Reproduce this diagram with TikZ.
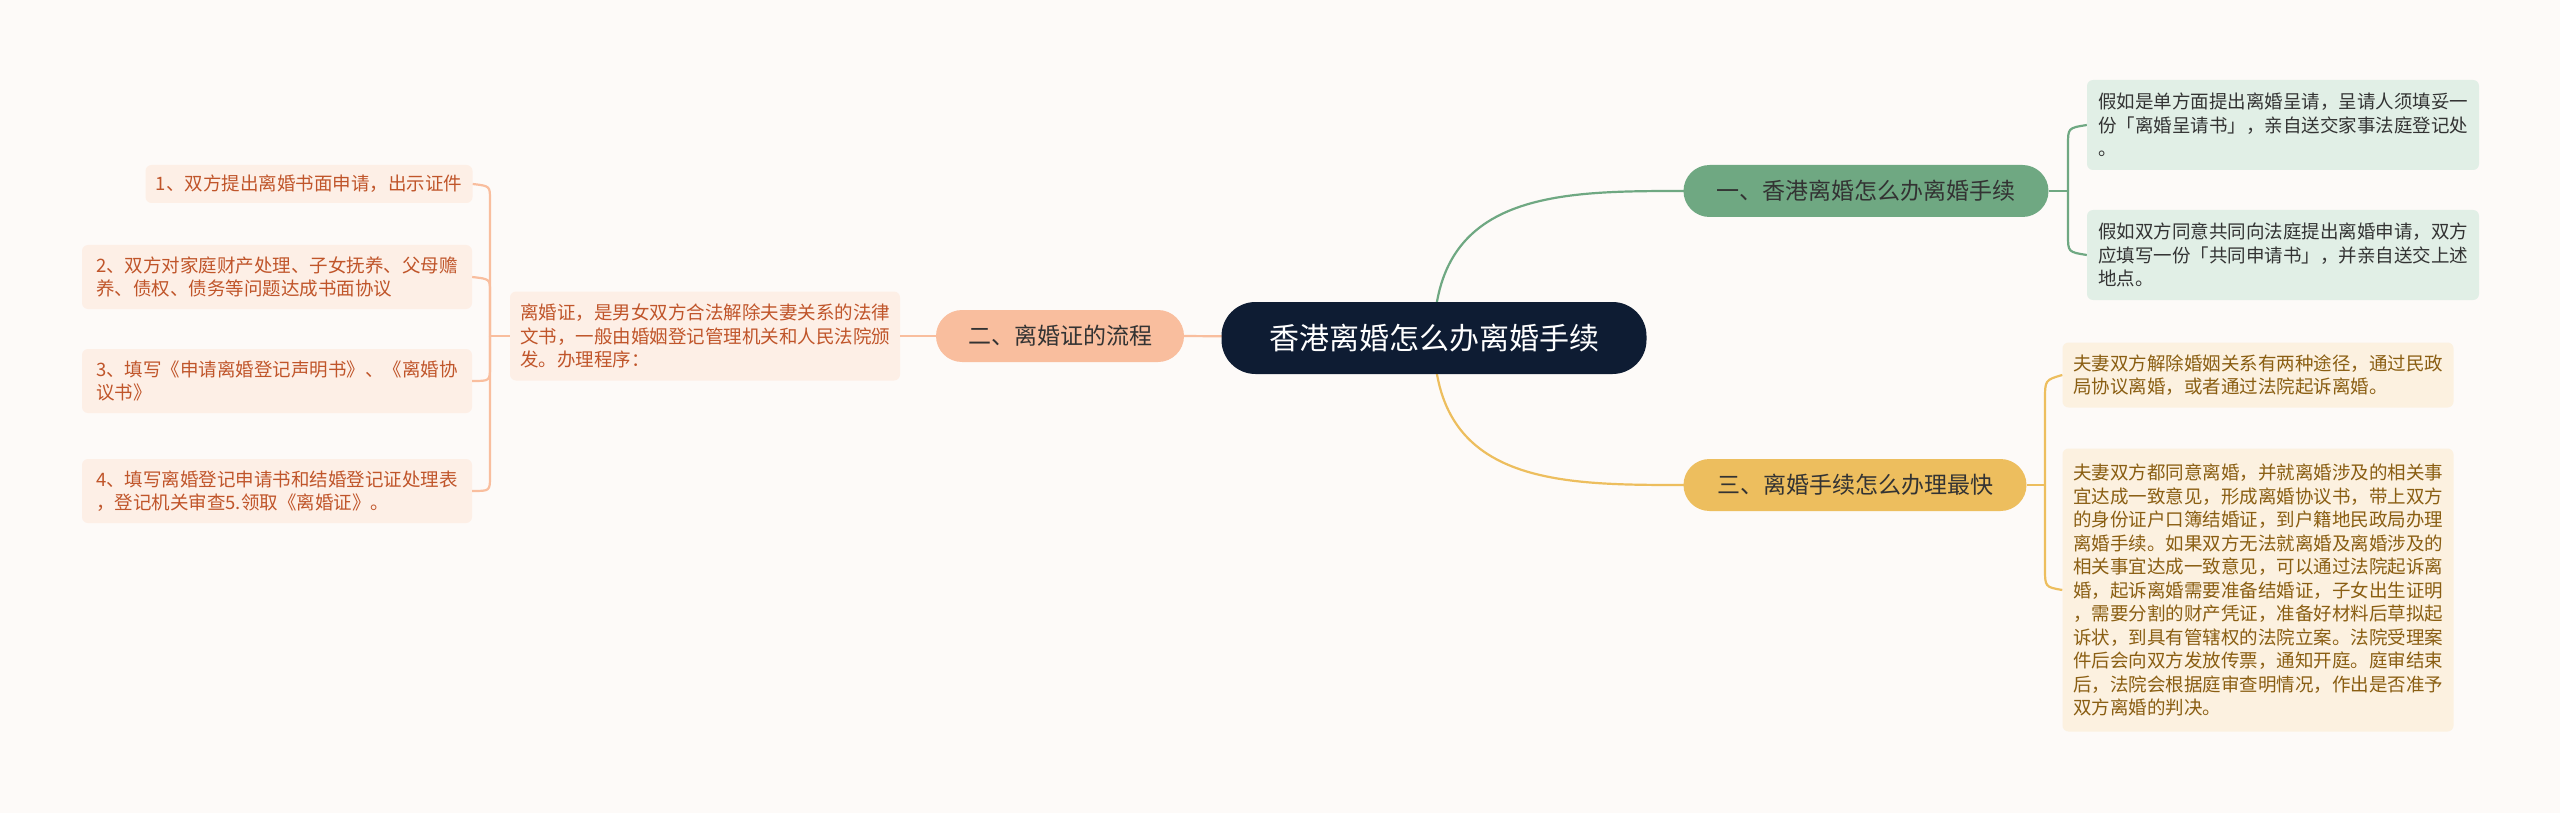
\documentclass[tikz,border=0pt]{standalone}
\usepackage{fontspec}
\setmainfont{Noto Sans CJK SC}
\begin{document}
\begin{tikzpicture}[x=1pt,y=-1pt,
  leaf/.style={rounded corners=6pt,inner xsep=10pt,inner ysep=6pt,align=left,anchor=center,font=\fontsize{18.5}{23.5}\selectfont},
  sleaf/.style={leaf,fill=salleaf,text=saltext},
  gleaf/.style={leaf,fill=grnleaf,text=grntext},
  yleaf/.style={leaf,fill=yelleaf,text=yeltext},
  branch/.style={rounded corners=26pt,minimum height=52pt,inner xsep=18pt,font=\fontsize{23}{28}\selectfont,text=black!80},
  conn/.style={line width=2.2pt}]
\definecolor{bg}{HTML}{FDFAF8}
\definecolor{navy}{HTML}{0E1C33}
\definecolor{grn}{HTML}{6FA882}
\definecolor{grnleaf}{HTML}{E1EFE6}
\definecolor{grntext}{HTML}{333333}
\definecolor{yel}{HTML}{EDBE5E}
\definecolor{yelleaf}{HTML}{FCF1E0}
\definecolor{yeltext}{HTML}{8A5E12}
\definecolor{sal}{HTML}{F9BE9E}
\definecolor{salleaf}{HTML}{FDEFE6}
\definecolor{saltext}{HTML}{C0552A}
\fill[bg] (0,0) rectangle (2560,813);
\useasboundingbox (0,0) rectangle (2560,813);

\coordinate (cc) at (1434,338);
% connectors from centre (behind)
\draw[conn,grn] (cc) .. controls (1434,191) and (1560,191) .. (1684,191);
\draw[conn,yel] (cc) .. controls (1434,485) and (1560,485) .. (1684,485);
\draw[conn,sal] (cc) -- (1184,336);

\node[fill=navy,text=white,rounded corners=34pt,minimum width=425pt,minimum height=72pt,font=\fontsize{30}{36}\selectfont] (c) at (cc) {香港离婚怎么办离婚手续};

\node[branch,fill=grn,minimum width=365pt] (b1) at (1866,191) {一、香港离婚怎么办离婚手续};
\node[branch,fill=yel,minimum width=343pt] (b3) at (1855,485) {三、离婚手续怎么办理最快};
\node[branch,fill=sal,minimum width=248pt] (b2) at (1060,336) {二、离婚证的流程};

\node[gleaf,minimum width=392pt,minimum height=90pt] (g1) at (2283,125) {假如是单方面提出离婚呈请，呈请人须填妥一\\份「离婚呈请书」，亲自送交家事法庭登记处\\。};
\node[gleaf,minimum width=392pt,minimum height=90pt] (g2) at (2283,255) {假如双方同意共同向法庭提出离婚申请，双方\\应填写一份「共同申请书」，并亲自送交上述\\地点。};

\node[yleaf,minimum width=391pt,minimum height=65pt] (y1) at (2258,375) {夫妻双方解除婚姻关系有两种途径，通过民政\\局协议离婚，或者通过法院起诉离婚。};
\node[yleaf,minimum width=391pt,minimum height=283pt] (y2) at (2258,590) {夫妻双方都同意离婚，并就离婚涉及的相关事\\宜达成一致意见，形成离婚协议书，带上双方\\的身份证户口簿结婚证，到户籍地民政局办理\\离婚手续。如果双方无法就离婚及离婚涉及的\\相关事宜达成一致意见，可以通过法院起诉离\\婚，起诉离婚需要准备结婚证，子女出生证明\\，需要分割的财产凭证，准备好材料后草拟起\\诉状，到具有管辖权的法院立案。法院受理案\\件后会向双方发放传票，通知开庭。庭审结束\\后，法院会根据庭审查明情况，作出是否准予\\双方离婚的判决。};

\node[sleaf,minimum width=390pt,minimum height=89pt] (s0) at (705,336) {离婚证，是男女双方合法解除夫妻关系的法律\\文书，一般由婚姻登记管理机关和人民法院颁\\发。办理程序：};
\node[sleaf,minimum width=327pt,minimum height=38pt] (l1) at (309,184) {1、双方提出离婚书面申请，出示证件};
\node[sleaf,minimum width=390pt,minimum height=64pt] (l2) at (277,277) {2、双方对家庭财产处理、子女抚养、父母赡\\养、债权、债务等问题达成书面协议};
\node[sleaf,minimum width=390pt,minimum height=64pt] (l3) at (277,381) {3、填写《申请离婚登记声明书》、《离婚协\\议书》};
\node[sleaf,minimum width=390pt,minimum height=64pt] (l4) at (277,491) {4、填写离婚登记申请书和结婚登记证处理表\\，登记机关审查5.领取《离婚证》。};

% branch to leaves
\draw[conn,sal] (b2.west) -- (s0.east);
\draw[conn,grn] (b1.east) -- (2068,191);
\draw[conn,grn] (2068,191) -- (2068,145) .. controls (2068,128) .. (g1.west);
\draw[conn,grn] (2068,191) -- (2068,235) .. controls (2068,252) .. (g2.west);
\draw[conn,yel] (b3.east) -- (2045,485);
\draw[conn,yel] (2045,485) -- (2045,400) .. controls (2045,380) .. (y1.west);
\draw[conn,yel] (2045,485) -- (2045,568) .. controls (2045,587) .. (y2.west);
\coordinate (sb) at (490,336);
\draw[conn,sal] (s0.west) -- (sb);
\draw[conn,sal] (sb) -- (490,200) .. controls (490,186) .. (l1.east);
\draw[conn,sal] (sb) -- (490,292) .. controls (490,279) .. (l2.east);
\draw[conn,sal] (sb) -- (490,366) .. controls (490,381) .. (l3.east);
\draw[conn,sal] (sb) -- (490,476) .. controls (490,491) .. (l4.east);
\end{tikzpicture}
\end{document}
